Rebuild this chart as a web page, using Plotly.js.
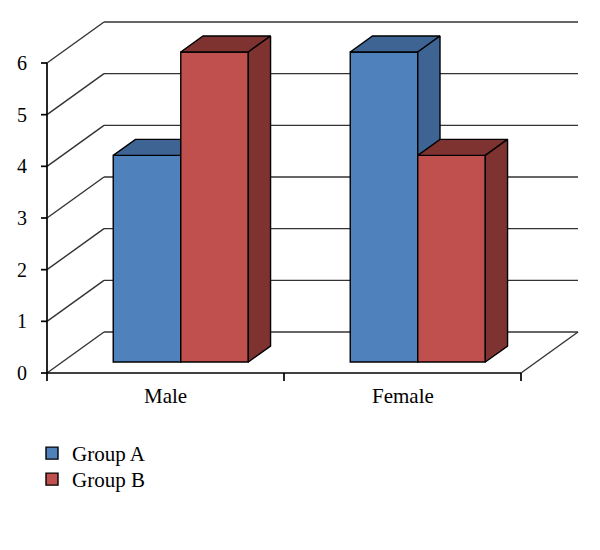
<!DOCTYPE html>
<html>
<head>
<meta charset="utf-8">
<script src="https://cdn.plot.ly/plotly-3.0.1.min.js"></script>
<style>
  body { margin: 0; background: #fff; }
  #chart { width: 600px; height: 550px; }
</style>
</head>
<body>
<div id="chart"></div>
<script>
const categories = ['Male', 'Female'];
const groupA = [4, 6];
const groupB = [6, 4];
const yTicks = [0, 1, 2, 3, 4, 5, 6];
const seriesNames = ['Group A', 'Group B'];

const FONT = '"Liberation Serif", "Times New Roman", serif';

// pixel geometry of the fake 3D box (front plane origin + scale)
const W = 600, H = 550;
const M = { l: 30, r: 5, t: 10, b: 150 };
const originPx = { x: 47, y: 373 };
const pxPerX = 237;          // one category slot
const pxPerY = 310 / 6;      // one value unit
// depth: how far the back wall is shifted, in data units
const DX = 57 / pxPerX;
const DY = 41 / pxPerY;
// bars sit between these depths (0 = front, 1 = back wall)
const zF = 0.268, zB = 0.658;
const barW = 0.285;

const xRange = [(M.l - originPx.x) / pxPerX, (W - M.r - originPx.x) / pxPerX];
const yRange = [(originPx.y - (H - M.b)) / pxPerY, (originPx.y - M.t) / pxPerY];
const plotW = W - M.l - M.r, plotH = H - M.t - M.b;

const n = categories.length;
const front = ['#4f81bd', '#c0504d'];
const dark = ['#3e6494', '#7e3331'];
const edge = { color: '#000', width: 1.4 };

function faces(values, offset, idx, xa, ya) {
  const out = [];
  values.forEach((v, i) => {
    const xl = i + 0.5 + offset;
    const xr = xl + barW;
    // top face
    out.push({
      x: [xl + DX * zF, xr + DX * zF, xr + DX * zB, xl + DX * zB, xl + DX * zF],
      y: [v + DY * zF, v + DY * zF, v + DY * zB, v + DY * zB, v + DY * zF],
    });
    // right side face
    out.push({
      x: [xr + DX * zF, xr + DX * zB, xr + DX * zB, xr + DX * zF, xr + DX * zF],
      y: [DY * zF, DY * zB, v + DY * zB, v + DY * zF, DY * zF],
    });
  });
  return out.map((p) => ({
    x: p.x, y: p.y, xaxis: xa, yaxis: ya,
    type: 'scatter', mode: 'lines', fill: 'toself',
    fillcolor: dark[idx], line: edge,
    hoverinfo: 'skip', showlegend: false,
  }));
}

function frontBars(values, offset, idx, xa, ya) {
  return {
    type: 'bar',
    name: seriesNames[idx],
    legend: idx === 0 ? 'legend' : 'legend2',
    x: categories.map((c, i) => i + 0.5),
    y: values,
    base: DY * zF,
    width: barW,
    offset: offset + DX * zF,
    xaxis: xa, yaxis: ya,
    marker: { color: front[idx], line: edge },
    hovertemplate: '%{y}<extra>' + seriesNames[idx] + '</extra>',
  };
}

// group B lives on an overlaid subplot so it paints over group A
const traces = [
  frontBars(groupA, -barW, 0, 'x', 'y'),
  ...faces(groupA, -barW, 0, 'x', 'y'),
  frontBars(groupB, 0, 1, 'x2', 'y2'),
  ...faces(groupB, 0, 1, 'x2', 'y2'),
];

const grid = { color: '#333', width: 1.4 };
const axisLine = { color: '#000', width: 1.7 };
const shapes = [];
yTicks.forEach((v) => {
  shapes.push({ type: 'line', x0: 0, y0: v, x1: DX, y1: v + DY, line: grid, layer: 'below' });
  shapes.push({ type: 'line', x0: DX, y0: v + DY, x1: n + DX, y1: v + DY, line: grid, layer: 'below' });
  shapes.push({ type: 'line', x0: -6 / pxPerX, y0: v, x1: 0, y1: v, line: axisLine, layer: 'below' });
});
shapes.push({ type: 'line', x0: n, y0: 0, x1: n + DX, y1: DY, line: grid, layer: 'below' });
shapes.push({ type: 'line', x0: 0, y0: 0, x1: n, y1: 0, line: axisLine, layer: 'below' });
shapes.push({ type: 'line', x0: 0, y0: 0, x1: 0, y1: yTicks[yTicks.length - 1], line: axisLine, layer: 'below' });
for (let k = 0; k <= n; k++) {
  shapes.push({ type: 'line', x0: k, y0: 0, x1: k, y1: -8 / pxPerY, line: axisLine, layer: 'below' });
}

const annotations = categories.map((c, i) => ({
  x: i + 0.5, y: 0, xref: 'x', yref: 'y',
  text: c, showarrow: false,
  yanchor: 'middle', yshift: -23,
  font: { family: FONT, size: 21, color: '#000' },
}));

const hidden = {
  showgrid: false, zeroline: false, showline: false,
  showticklabels: false, ticks: '', fixedrange: true,
};

function legendAt(topPx) {
  return {
    x: (32 - M.l) / plotW,
    y: (H - M.b - topPx) / plotH,
    xanchor: 'left', yanchor: 'top',
    bgcolor: 'rgba(0,0,0,0)',
    font: { family: FONT, size: 21, color: '#000' },
  };
}

const layout = {
  width: W, height: H,
  margin: M,
  paper_bgcolor: '#fff',
  plot_bgcolor: 'rgba(0,0,0,0)',
  barmode: 'overlay',
  font: { family: FONT, size: 20, color: '#000' },
  xaxis: { ...hidden, range: xRange },
  yaxis: {
    range: yRange,
    tickvals: yTicks,
    ticktext: yTicks.map(String),
    showgrid: false, zeroline: false, showline: false,
    ticks: '', ticklabelstandoff: 2,
    tickfont: { family: FONT, size: 20, color: '#000' },
    fixedrange: true,
  },
  xaxis2: { ...hidden, range: xRange, overlaying: 'x', anchor: 'y2' },
  yaxis2: { ...hidden, range: yRange, overlaying: 'y', anchor: 'x2' },
  shapes,
  annotations,
  showlegend: true,
  legend: legendAt(433),
  legend2: legendAt(459),
};

Plotly.newPlot('chart', traces, layout, { displayModeBar: false, staticPlot: true });
</script>
</body>
</html>
